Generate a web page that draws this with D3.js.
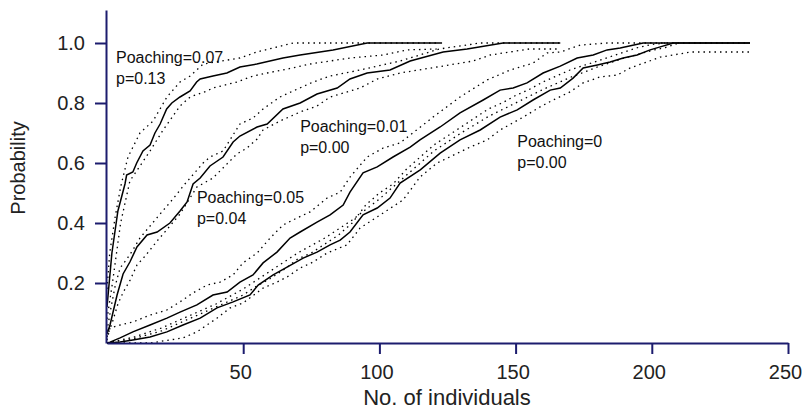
<!DOCTYPE html>
<html>
<head>
<meta charset="utf-8">
<script src="https://cdn.jsdelivr.net/npm/d3@7"></script>
<style>
  body { margin: 0; background: #fff; }
  svg { display: block; font-family: Arial, "Liberation Sans", sans-serif; }
  .domain, .tick line { stroke: #1c1c6e; stroke-width: 2; }
  .tick text { fill: #222; font-size: 20px; }
  .mean { fill: none; stroke: #000; stroke-width: 1.5; }
  .band { fill: none; stroke: #000; stroke-width: 1.3; stroke-dasharray: 1.5 4; }
  .note { fill: #111; font-size: 16px; }
  .axis-label { fill: #222; }
</style>
</head>
<body>
<div id="chart"></div>
<script>
// data: [no. of individuals, probability]
const poach007 = [[0,0.12],[0.5,0.17],[1.8,0.30],[4,0.44],[6.6,0.53],[7.2,0.56],[9.5,0.57],[10.9,0.60],[13.2,0.64],[15.8,0.66],[17.6,0.70],[19.5,0.73],[21.9,0.78],[23.8,0.80],[26.8,0.82],[30.5,0.84],[32.9,0.87],[34.2,0.88],[38.9,0.89],[44,0.90],[48.8,0.92],[55,0.93],[64.6,0.95],[70.9,0.96],[83,0.977],[95.5,1.0],[123,1.0]];
const poach007Upper = [[0,0.18],[1,0.30],[3,0.42],[5,0.52],[7.7,0.62],[12.1,0.70],[16.9,0.74],[22,0.82],[26.8,0.87],[30.5,0.89],[35.3,0.93],[48.8,0.95],[55,0.97],[68.3,1.0],[121,1.0]];
const poach007Lower = [[0,0.08],[2,0.2],[5,0.4],[8.4,0.54],[15.8,0.64],[20.6,0.71],[26.8,0.79],[30.5,0.82],[36.7,0.84],[38.9,0.85],[47.7,0.87],[53.6,0.89],[58.8,0.90],[64.6,0.91],[74.6,0.93],[89.2,0.95],[101.4,0.96],[110.2,0.977],[121,0.98]];

const poach005 = [[0,0.03],[1.1,0.06],[3.7,0.16],[5.9,0.23],[8.4,0.27],[11,0.32],[14.7,0.36],[18.4,0.37],[23.1,0.40],[26.8,0.44],[29.4,0.47],[31.6,0.53],[34.2,0.55],[37.8,0.59],[42.6,0.62],[46.3,0.67],[48.8,0.69],[55.1,0.72],[58.8,0.73],[64.6,0.78],[70.9,0.80],[77.1,0.83],[84.5,0.85],[89.2,0.88],[95.5,0.90],[103.9,0.91],[111.3,0.94],[123.4,0.97],[132.2,0.98],[145.4,1.0],[166.4,1.0]];
const poach005Upper = [[0,0.04],[1.5,0.12],[3,0.19],[4.8,0.25],[7.3,0.28],[9.5,0.31],[12.1,0.35],[15.8,0.39],[19.5,0.43],[24.2,0.48],[28.6,0.53],[35.3,0.60],[37.8,0.62],[42.6,0.64],[48.8,0.73],[53.6,0.75],[57.3,0.78],[63.5,0.82],[68.3,0.84],[75.7,0.87],[81.9,0.89],[92.9,0.91],[107.6,0.94],[122,0.98],[137,1.0],[166,1.0]];
const poach005Lower = [[0,0.02],[2,0.07],[4,0.13],[6,0.17],[8.5,0.21],[11,0.26],[14,0.29],[18.4,0.34],[23.1,0.39],[26.8,0.43],[33,0.52],[38.9,0.55],[47.7,0.63],[51.4,0.65],[55.1,0.68],[57.3,0.71],[63.5,0.74],[70.9,0.77],[77.1,0.79],[81.9,0.82],[92.9,0.85],[99.2,0.88],[107.6,0.90],[121.2,0.92],[134.4,0.94],[140.7,0.96],[155,0.98],[166,0.98]];

const poach001 = [[0,0],[1.1,0.003],[4.8,0.017],[9.5,0.037],[15.8,0.06],[22,0.083],[26.8,0.103],[33,0.127],[38.9,0.16],[44.1,0.17],[48.8,0.203],[53.6,0.227],[57.3,0.267],[62.4,0.303],[67.2,0.35],[70.9,0.37],[77.1,0.403],[81.9,0.427],[86.7,0.46],[89.2,0.503],[94,0.567],[99.2,0.587],[105,0.62],[111.3,0.653],[114.9,0.677],[122.3,0.72],[129.6,0.767],[138.1,0.81],[144.3,0.843],[149.1,0.85],[154.2,0.867],[160.1,0.90],[166.4,0.923],[172.6,0.95],[178.5,0.96],[183.6,0.977],[188.4,0.983],[196.8,1.0],[236,1.0]];
const poach001Upper = [[0,0.01],[1.1,0.05],[4.8,0.06],[9.5,0.07],[15.8,0.093],[22,0.11],[26.8,0.137],[31.6,0.167],[36.7,0.193],[41.5,0.203],[46.3,0.227],[49.9,0.267],[55.1,0.30],[59.9,0.35],[64.6,0.393],[69.8,0.417],[74.6,0.437],[80.8,0.483],[85.6,0.503],[89.2,0.553],[95.5,0.62],[101.4,0.65],[107.6,0.667],[119.7,0.753],[129.6,0.82],[139.6,0.877],[148,0.91],[156.4,0.933],[161.6,0.967],[166.4,0.97],[173.7,0.993],[183.6,1.0],[236,1.0]];
const poach001Lower = [[0,0],[10,0.015],[20,0.04],[30,0.08],[40,0.12],[50,0.16],[55,0.19],[60,0.215],[65,0.245],[70,0.28],[75,0.30],[80,0.33],[85,0.36],[90,0.40],[95,0.46],[100,0.50],[105,0.53],[110,0.58],[115,0.62],[120,0.66],[125,0.69],[130,0.72],[135,0.75],[140,0.78],[145,0.80],[150,0.825],[155,0.845],[160,0.87],[165,0.89],[170,0.91],[175,0.925],[180,0.94],[185,0.955],[190,0.97],[195,0.985],[200,0.995],[205,1.0]];

const poach0 = [[0,0],[4.8,0.003],[9.5,0.01],[15.8,0.02],[22,0.037],[27.9,0.06],[34.2,0.083],[40.4,0.117],[46.3,0.137],[52.5,0.16],[55.5,0.193],[61,0.227],[66.1,0.253],[72,0.283],[77.1,0.303],[81.9,0.327],[85.6,0.343],[89.2,0.37],[94,0.427],[99.2,0.45],[103.9,0.483],[107.6,0.533],[115,0.577],[122.3,0.633],[129.6,0.677],[137,0.71],[144.3,0.753],[150.6,0.777],[156.4,0.81],[162.7,0.843],[166.4,0.85],[171.1,0.883],[174.8,0.917],[180,0.927],[184.7,0.937],[189.5,0.95],[194.6,0.96],[199.4,0.977],[203.1,0.987],[207.9,1.0],[236,1.0]];
const poach0Upper = [[0,0],[10,0.02],[20,0.05],[30,0.09],[40,0.13],[50,0.18],[60,0.24],[70,0.30],[80,0.35],[90,0.41],[100,0.48],[110,0.56],[120,0.64],[130,0.70],[140,0.755],[150,0.80],[160,0.845],[170,0.885],[180,0.92],[190,0.95],[200,0.975],[205,0.985],[210,1.0]];
const poach0Lower = [[0,0],[15.8,0],[23,0.01],[27.9,0.017],[33,0.037],[40.4,0.083],[45.2,0.117],[49.9,0.133],[57.3,0.183],[62.4,0.203],[66.1,0.22],[70.9,0.25],[75.7,0.27],[80.8,0.30],[88.1,0.327],[92.9,0.383],[100.3,0.427],[108.7,0.477],[114.9,0.553],[121.2,0.60],[133.3,0.653],[139.6,0.677],[144.3,0.71],[152.8,0.753],[159,0.787],[163.8,0.81],[170,0.837],[174.8,0.867],[181,0.887],[187.3,0.893],[192.1,0.917],[198.3,0.937],[203.1,0.953],[207.9,0.96],[214.1,0.97],[236,0.97]];

const xTicks = [50, 100, 150, 200, 250];
const yTicks = [0.2, 0.4, 0.6, 0.8, 1.0];

const notes = [
  { x: 3.3, y: 0.933, lines: ['Poaching=0.07', 'p=0.13'] },
  { x: 33, y: 0.467, lines: ['Poaching=0.05', 'p=0.04'] },
  { x: 70.9, y: 0.703, lines: ['Poaching=0.01', 'p=0.00'] },
  { x: 150.6, y: 0.653, lines: ['Poaching=0', 'p=0.00'] },
];

const width = 804;
const height = 409;

const xScale = d3.scaleLinear().domain([0, 250]).range([107, 788]);
const yScale = d3.scaleLinear().domain([0, 1.11]).range([343, 10]);

const svg = d3
  .select('#chart')
  .append('svg')
  .attr('width', width)
  .attr('height', height);

const line = d3
  .line()
  .x((d) => xScale(d[0]))
  .y((d) => yScale(d[1]));

const bands = [poach007Upper, poach007Lower, poach005Upper, poach005Lower, poach001Upper, poach001Lower, poach0Upper, poach0Lower];
const means = [poach007, poach005, poach001, poach0];

svg
  .append('g')
  .selectAll('path')
  .data(bands)
  .join('path')
  .attr('class', 'band')
  .attr('d', line);

svg
  .append('g')
  .selectAll('path')
  .data(means)
  .join('path')
  .attr('class', 'mean')
  .attr('d', line);

svg
  .append('g')
  .attr('transform', `translate(0, ${yScale(0)})`)
  .call(d3.axisBottom(xScale).tickValues(xTicks).tickSize(11).tickSizeOuter(0).tickPadding(9))
  .call((g) => g.selectAll('.tick text').attr('dy', '0.8em').attr('dx', -3));

svg
  .append('g')
  .attr('transform', `translate(${xScale(0) - 1}, 0)`)
  .call(
    d3
      .axisLeft(yScale)
      .tickValues(yTicks)
      .tickSize(11)
      .tickSizeOuter(0)
      .tickPadding(10)
      .tickFormat(d3.format('.1f')),
  );

svg.selectAll('.domain').attr('stroke', '#1c1c6e');
svg.selectAll('.tick text').attr('font-family', 'Arial, "Liberation Sans", sans-serif');

const noteGroups = svg
  .append('g')
  .selectAll('text')
  .data(notes)
  .join('text')
  .attr('class', 'note')
  .attr('x', (d) => xScale(d.x))
  .attr('y', (d) => yScale(d.y));

noteGroups
  .selectAll('tspan')
  .data((d) => d.lines.map((t) => ({ t, x: d.x })))
  .join('tspan')
  .attr('x', (d) => xScale(d.x))
  .attr('dy', (d, i) => (i === 0 ? 0 : 21))
  .text((d) => d.t);

svg
  .append('text')
  .attr('class', 'axis-label')
  .attr('x', 447)
  .attr('y', 405)
  .attr('text-anchor', 'middle')
  .attr('font-size', 22)
  .text('No. of individuals');

svg
  .append('text')
  .attr('class', 'axis-label')
  .attr('transform', 'rotate(-90)')
  .attr('x', -168)
  .attr('y', 25)
  .attr('text-anchor', 'middle')
  .attr('font-size', 20)
  .text('Probability');
</script>
</body>
</html>
